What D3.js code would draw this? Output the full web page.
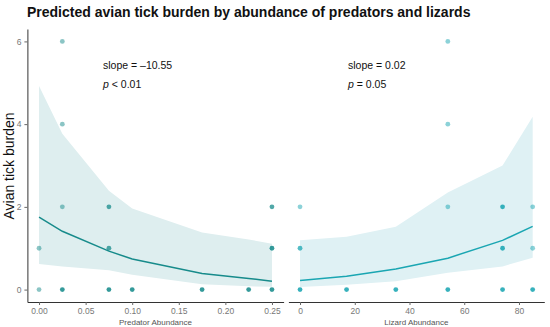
<!DOCTYPE html>
<html>
<head>
<meta charset="utf-8">
<script src="https://cdn.jsdelivr.net/npm/d3@7"></script>
<style>
  body { margin: 0; background: #fff; }
  svg text { font-family: "Liberation Sans", Arial, sans-serif; }
</style>
</head>
<body>
<div id="chart"></div>
<script>
var width = 550, height = 327;

// observed points: [abundance, ticks, number of overlapping birds]
var predatorPoints = [
  [0, 0, 1], [0, 1, 1], [0.025, 6, 1], [0.025, 4, 1], [0.025, 2, 1], [0.025, 0, 3],
  [0.075, 2, 2], [0.075, 1, 2], [0.075, 0, 3], [0.1, 0, 3], [0.175, 0, 3],
  [0.225, 0, 3], [0.25, 2, 2], [0.25, 1, 3], [0.25, 0, 3]
];
var lizardPoints = [
  [0, 2, 1], [0, 1, 2], [0, 0, 3], [17, 0, 3], [35, 0, 3], [54, 6, 1], [54, 4, 1],
  [54, 2, 1], [54, 0, 3], [74, 2, 3], [74, 1, 3], [74, 0, 3], [85, 2, 1], [85, 1, 1], [85, 0, 3]
];

// fitted line and confidence band
var predatorX     = [0, 0.025, 0.075, 0.1, 0.175, 0.225, 0.25];
var predatorFit   = [1.75, 1.41, 0.93, 0.74, 0.39, 0.27, 0.20];
var predatorUpper = [4.92, 3.77, 2.39, 1.96, 1.38, 1.21, 1.11];
var predatorLower = [0.62, 0.56, 0.47, 0.36, 0.13, 0.08, 0.07];

var lizardX     = [0, 17, 35, 54, 74, 85];
var lizardFit   = [0.22, 0.32, 0.50, 0.76, 1.19, 1.53];
var lizardUpper = [1.19, 1.28, 1.52, 2.35, 3.0, 4.18];
var lizardLower = [0.06, 0.12, 0.20, 0.41, 0.56, 0.77];

var yTicks = [0, 2, 4, 6];
var predatorTicks = [0, 0.05, 0.10, 0.15, 0.20, 0.25];
var lizardTicks = [0, 20, 40, 60, 80];

var svg = d3.select("#chart").append("svg")
  .attr("width", width)
  .attr("height", height);

var y = d3.scaleLinear().domain([-0.3, 6.3]).range([302, 29]);

var panels = [
  {
    points: predatorPoints, xs: predatorX, fit: predatorFit, up: predatorUpper, lo: predatorLower,
    x: d3.scaleLinear().domain([-0.0125, 0.2625]).range([27.4, 283.6]),
    ticks: predatorTicks, fmt: d3.format(".2f"), title: "Predator Abundance",
    color: "#178b8b", band: "#deeeef", yAxis: true,
    slope: "slope = \u201310.55", p: " < 0.01", tx: 103
  },
  {
    points: lizardPoints, xs: lizardX, fit: lizardFit, up: lizardUpper, lo: lizardLower,
    x: d3.scaleLinear().domain([-4.25, 89.25]).range([288.4, 544.3]),
    ticks: lizardTicks, fmt: d3.format("d"), title: "Lizard Abundance",
    color: "#1aa6b2", band: "#dff1f4", yAxis: false,
    slope: "slope = 0.02", p: " = 0.05", tx: 348
  }
];

panels.forEach(function(pn) {
  var g = svg.append("g");
  var idx = d3.range(pn.xs.length);

  g.append("path")
    .datum(idx)
    .attr("fill", pn.band)
    .attr("d", d3.area()
      .x(function(i) { return pn.x(pn.xs[i]); })
      .y0(function(i) { return y(pn.lo[i]); })
      .y1(function(i) { return y(pn.up[i]); }));

  g.append("path")
    .datum(idx)
    .attr("fill", "none")
    .attr("stroke", pn.color)
    .attr("stroke-width", 1.5)
    .attr("d", d3.line()
      .x(function(i) { return pn.x(pn.xs[i]); })
      .y(function(i) { return y(pn.fit[i]); }));

  g.selectAll("circle")
    .data(pn.points)
    .join("circle")
      .attr("cx", function(d) { return pn.x(d[0]); })
      .attr("cy", function(d) { return y(d[1]); })
      .attr("r", 2.4)
      .attr("fill", pn.color)
      .attr("fill-opacity", function(d) { return 1 - Math.pow(0.5, d[2]); });

  var xAxis = g.append("g")
    .attr("transform", "translate(0,302)")
    .call(d3.axisBottom(pn.x).tickValues(pn.ticks).tickFormat(pn.fmt).tickSize(3).tickSizeOuter(0));
  xAxis.select(".domain").attr("stroke", "#333").attr("stroke-width", 1);
  xAxis.selectAll(".tick line").attr("stroke", "#666");
  xAxis.selectAll(".tick text").attr("fill", "#777").attr("font-size", 8.5)
    .attr("font-family", "Liberation Sans, Arial, sans-serif");

  g.append("text")
    .attr("x", (pn.x.range()[0] + pn.x.range()[1]) / 2)
    .attr("y", 325)
    .attr("text-anchor", "middle")
    .attr("font-size", 8)
    .attr("fill", "#555")
    .text(pn.title);

  if (pn.yAxis) {
    var yAxis = g.append("g")
      .attr("transform", "translate(" + pn.x.range()[0] + ",0)")
      .call(d3.axisLeft(y).tickValues(yTicks).tickFormat(d3.format("d")).tickSize(3).tickSizeOuter(0));
    yAxis.select(".domain").attr("stroke", "#333").attr("stroke-width", 1);
    yAxis.selectAll(".tick line").attr("stroke", "#666");
    yAxis.selectAll(".tick text").attr("fill", "#777").attr("font-size", 8.5)
      .attr("font-family", "Liberation Sans, Arial, sans-serif");
  }

  g.append("text")
    .attr("x", pn.tx)
    .attr("y", 69)
    .attr("font-size", 10.5)
    .attr("fill", "#111")
    .text(pn.slope);

  var pt = g.append("text")
    .attr("x", pn.tx)
    .attr("y", 88)
    .attr("font-size", 10.5)
    .attr("fill", "#111");
  pt.append("tspan").attr("font-style", "italic").text("p");
  pt.append("tspan").text(pn.p);
});

svg.append("text")
  .attr("transform", "translate(14,166) rotate(-90)")
  .attr("text-anchor", "middle")
  .attr("font-size", 14)
  .attr("fill", "#111")
  .text("Avian tick burden");

svg.append("text")
  .attr("x", 27)
  .attr("y", 17)
  .attr("font-size", 14)
  .attr("font-weight", "bold")
  .attr("fill", "#111")
  .text("Predicted avian tick burden by abundance of predators and lizards");
</script>
</body>
</html>
